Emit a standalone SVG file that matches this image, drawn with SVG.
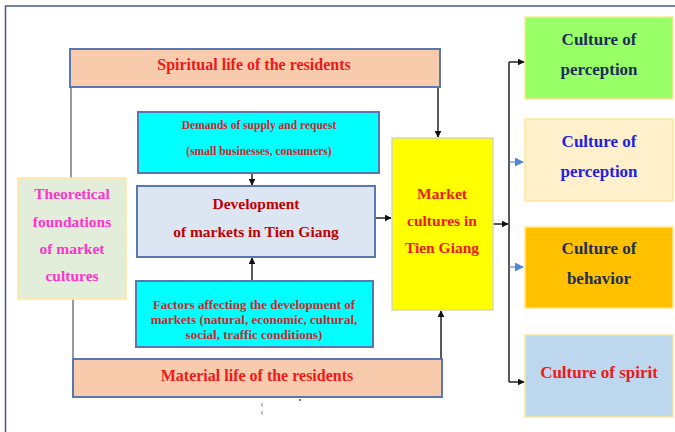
<svg xmlns="http://www.w3.org/2000/svg" width="675" height="432" viewBox="0 0 675 432">
<defs>
<style>
.t{font-family:"Liberation Serif","Times New Roman",serif;font-weight:bold;text-anchor:middle}
.bb{stroke:#5a78b0;stroke-width:2}
.yb{stroke:#ffe69a;stroke-width:1.5}
.ln{fill:none;stroke:#222;stroke-width:1.5}
.gl{fill:none;stroke:#777;stroke-width:1.5}
.bl{fill:none;stroke:#5b8bd0;stroke-width:1.2}
</style>
<marker id="ah" viewBox="0 0 10 10" refX="9" refY="5" markerWidth="7" markerHeight="7" markerUnits="userSpaceOnUse" orient="auto"><path d="M0,0 L10,5 L0,10 z" fill="#111"/></marker>
<marker id="ab" viewBox="0 0 10 10" refX="9" refY="5" markerWidth="9" markerHeight="9" markerUnits="userSpaceOnUse" orient="auto"><path d="M0,0 L10,5 L0,10 z" fill="#4f86d6"/></marker>
</defs>
<rect width="675" height="432" fill="#fff"/>
<path d="M5.5,432 V6 H675" fill="none" stroke="#4a5a86" stroke-width="1.5"/>

<g id="connectors">
<path class="gl" d="M71,87 V178"/>
<path class="gl" d="M73,299 V359"/>
<path class="ln" d="M252,173 V185" marker-end="url(#ah)"/>
<path class="ln" d="M252,281 V258" marker-end="url(#ah)"/>
<path class="ln" d="M438,87 V137" marker-end="url(#ah)"/>
<path class="ln" d="M441,359 V311" marker-end="url(#ah)"/>
<path class="ln" d="M375,218 H391" marker-end="url(#ah)"/>
<path class="ln" d="M493,224 H508" marker-end="url(#ah)"/>
<path class="ln" d="M509,62 V382"/>
<path class="ln" d="M509,62 H524" marker-end="url(#ah)"/>
<path class="ln" d="M509,382 H524" marker-end="url(#ah)"/>
<path class="bl" d="M509,162 H523" marker-end="url(#ab)"/>
<path class="bl" d="M509,267 H523" marker-end="url(#ab)"/>
<path d="M262,403 V407 M262,411 V415" stroke="#888" stroke-width="1" fill="none"/>
<rect x="299" y="399" width="2" height="2" fill="#777"/>
</g>

<g id="spiritual">
<rect x="70" y="49" width="370" height="38" fill="#f8cbad" class="bb"/>
<text class="t" x="254" y="70" font-size="16" fill="#f01818">Spiritual life of the residents</text>
</g>

<g id="demands">
<rect x="138" y="112" width="241" height="61" fill="#00ffff" class="bb"/>
<text class="t" x="259" y="129" font-size="11.5" fill="#d0262a">Demands of supply and request</text>
<text class="t" x="259" y="155" font-size="11.5" fill="#d0262a">(small businesses, consumers)</text>
</g>

<g id="development">
<rect x="137" y="186" width="238" height="71" fill="#dce6f2" class="bb"/>
<text class="t" x="256" y="209" font-size="15.5" fill="#c00000">Development</text>
<text class="t" x="256" y="237" font-size="15.5" fill="#c00000">of markets in Tien Giang</text>
</g>

<g id="theoretical">
<rect x="18" y="178" width="108" height="121" fill="#e3eeda" class="yb"/>
<text class="t" x="72" y="199" font-size="15.5" fill="#ff33cc">Theoretical</text>
<text class="t" x="72" y="227" font-size="15.5" fill="#ff33cc">foundations</text>
<text class="t" x="72" y="254" font-size="15.5" fill="#ff33cc">of market</text>
<text class="t" x="72" y="281" font-size="15.5" fill="#ff33cc">cultures</text>
</g>

<g id="factors">
<rect x="136" y="281" width="237" height="66" fill="#00ffff" class="bb"/>
<text class="t" x="254" y="309" font-size="13" fill="#d0262a">Factors affecting the development of</text>
<text class="t" x="254" y="324" font-size="13" fill="#d0262a">markets (natural, economic, cultural,</text>
<text class="t" x="254" y="339" font-size="13" fill="#d0262a">social, traffic conditions)</text>
</g>

<g id="material">
<rect x="73" y="359" width="369" height="38" fill="#f8cbad" class="bb"/>
<text class="t" x="257" y="381" font-size="16" fill="#f01818">Material life of the residents</text>
</g>

<g id="market">
<rect x="392" y="138" width="101" height="172" fill="#ffff00" stroke="#d8d8b0" stroke-width="1.5"/>
<text class="t" x="442" y="199" font-size="15.5" fill="#f01818">Market</text>
<text class="t" x="442" y="226" font-size="15.5" fill="#f01818">cultures in</text>
<text class="t" x="442" y="253" font-size="15.5" fill="#f01818">Tien Giang</text>
</g>

<g id="culture1">
<rect x="525" y="17" width="148" height="82" fill="#99ff66" class="yb"/>
<text class="t" x="599" y="45" font-size="17" fill="#1f2d5a">Culture of</text>
<text class="t" x="599" y="75" font-size="17" fill="#1f2d5a">perception</text>
</g>

<g id="culture2">
<rect x="525" y="119" width="148" height="82" fill="#fff0cc" class="yb"/>
<text class="t" x="599" y="147" font-size="17" fill="#1f22e0">Culture of</text>
<text class="t" x="599" y="177" font-size="17" fill="#1f22e0">perception</text>
</g>

<g id="culture3">
<rect x="525" y="227" width="148" height="81" fill="#ffc000" class="yb"/>
<text class="t" x="599" y="254" font-size="17" fill="#1f2d5a">Culture of</text>
<text class="t" x="599" y="284" font-size="17" fill="#1f2d5a">behavior</text>
</g>

<g id="culture4">
<rect x="525" y="335" width="148" height="82" fill="#bdd7ee" class="yb"/>
<text class="t" x="599" y="378" font-size="17" fill="#f01818">Culture of spirit</text>
</g>
</svg>
